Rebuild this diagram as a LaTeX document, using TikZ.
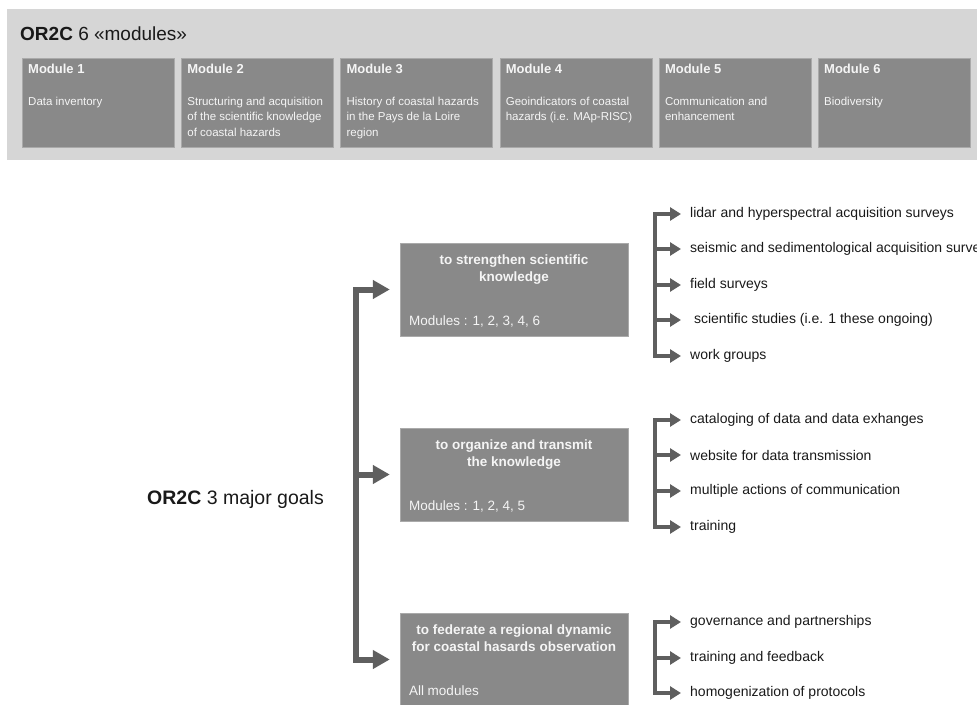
\documentclass[tikz,border=0pt]{standalone}
\usepackage{fontspec}
\setmainfont{Liberation Sans}
\usetikzlibrary{arrows.meta,positioning}
\definecolor{cBand}{RGB}{214,214,214}
\definecolor{cBox}{RGB}{137,137,137}
\definecolor{cEdge}{RGB}{170,170,170}
\definecolor{cArrow}{RGB}{95,95,95}
\definecolor{cLight}{RGB}{245,245,245}
\definecolor{cText}{RGB}{25,25,25}
\tikzset{
  modbox/.style={rectangle,draw=cEdge,fill=cBox,minimum width=152pt,
                 minimum height=89pt,anchor=north west,inner sep=0pt},
  modtitle/.style={anchor=base west,inner sep=0pt,text=cLight,
                   font=\fontsize{13}{15}\selectfont\bfseries},
  moddesc/.style={anchor=north west,inner sep=0pt,align=left,text=cLight,
                  font=\fontsize{11.5}{15.5}\selectfont},
  goalbox/.style={rectangle,draw=cEdge,fill=cBox,minimum width=228pt,
                  minimum height=93pt,inner sep=0pt},
  goaltitle/.style={inner sep=0pt,align=center,text=cLight,
                    font=\fontsize{13.5}{17}\selectfont\bfseries},
  goalmods/.style={inner sep=0pt,text=cLight,
                   font=\fontsize{13.5}{16}\selectfont},
  listitem/.style={anchor=west,inner sep=0pt,text=cText,
                   font=\fontsize{14}{16}\selectfont},
  trunk/.style={draw=cArrow,line width=6pt,line cap=rect},
  bigarr/.style={draw=cArrow,line width=6pt,shorten >=10pt,
                 -{Triangle[length=17pt,width=18pt]}},
  branch/.style={draw=cArrow,line width=4.5pt,line cap=rect},
  smallarr/.style={draw=cArrow,line width=4.5pt,shorten >=9pt,
                   -{Triangle[length=11pt,width=13pt]}}
}
\begin{document}
\begin{tikzpicture}[x=1pt,y=-1pt]
  \useasboundingbox (0,0) rectangle (977,704);

  % Modules band
  \fill[cBand] (7,9) rectangle (977,160);
  \node[anchor=base west,inner sep=0pt,text=cText,font=\fontsize{19}{22}\selectfont]
    (hdr) at (20,40) {\textbf{OR2C} 6 «modules»};

  \foreach \i/\d in {1/{Data inventory},
                     2/{Structuring and acquisition\\of the scientific knowledge\\of coastal hazards},
                     3/{History of coastal hazards\\in the Pays de la Loire\\region},
                     4/{Geoindicators of coastal\\hazards (i.e. MAp-RISC)},
                     5/{Communication and\\enhancement},
                     6/{Biodiversity}}{
    \pgfmathsetmacro{\x}{22+159.2*(\i-1)}
    \node[modbox] (m\i) at (\x,58) {};
    \node[modtitle] (m\i t) at (\x+6,73) {Module \i};
    \node[moddesc] (m\i d) at (\x+6,96.5) {\d};
  }

  % Goals
  \node[anchor=base west,inner sep=0pt,text=cText,font=\fontsize{19.5}{22}\selectfont]
    (goals) at (147,504) {\textbf{OR2C} 3 major goals};

  \node[goalbox] (g1) at (514,289.5) {};
  \node[goaltitle,below=12pt of g1.north] (g1t) {to strengthen scientific\\knowledge};
  \node[goalmods,above right=11pt and 9pt of g1.south west,anchor=base west] (g1m)
    {Modules : 1, 2, 3, 4, 6};

  \node[goalbox] (g2) at (514,474.5) {};
  \node[goaltitle,below=12pt of g2.north] (g2t) {to organize and transmit\\the knowledge};
  \node[goalmods,above right=11pt and 9pt of g2.south west,anchor=base west] (g2m)
    {Modules : 1, 2, 4, 5};

  \node[goalbox] (g3) at (514,659.5) {};
  \node[goaltitle,below=12pt of g3.north] (g3t)
    {to federate a regional dynamic\\for coastal hasards observation};
  \node[goalmods,above right=11pt and 9pt of g3.south west,anchor=base west] (g3m)
    {All modules};

  \coordinate (tt) at (356,291);
  \draw[trunk] (tt |- g1.west) -- (tt |- g3.west);
  \foreach \g in {g1,g2,g3}
    \draw[bigarr] (tt |- \g.west) -- (\g.west);

  % Actions
  \coordinate (bx) at (655,0);
  \foreach \n/\y/\t in {1/214/{lidar and hyperspectral acquisition surveys},
                        2/249/{seismic and sedimentological acquisition surveys},
                        3/285/{field surveys},
                        4/320/{\ scientific studies (i.e. 1 these ongoing)},
                        5/356/{work groups}}{
    \node[listitem] (a\n) at (690,\y) {\t};
    \draw[smallarr] (bx |- a\n.west) -- (a\n.west);
  }
  \draw[branch] (bx |- a1.west) -- (bx |- a5.west);

  \foreach \n/\y/\t in {1/420/{cataloging of data and data exhanges},
                        2/455/{website for data transmission},
                        3/491/{multiple actions of communication},
                        4/527/{training}}{
    \node[listitem] (b\n) at (690,\y) {\t};
    \draw[smallarr] (bx |- b\n.west) -- (b\n.west);
  }
  \draw[branch] (bx |- b1.west) -- (bx |- b4.west);

  \foreach \n/\y/\t in {1/622/{governance and partnerships},
                        2/658/{training and feedback},
                        3/693/{homogenization of protocols}}{
    \node[listitem] (c\n) at (690,\y) {\t};
    \draw[smallarr] (bx |- c\n.west) -- (c\n.west);
  }
  \draw[branch] (bx |- c1.west) -- (bx |- c3.west);

\end{tikzpicture}
\end{document}
